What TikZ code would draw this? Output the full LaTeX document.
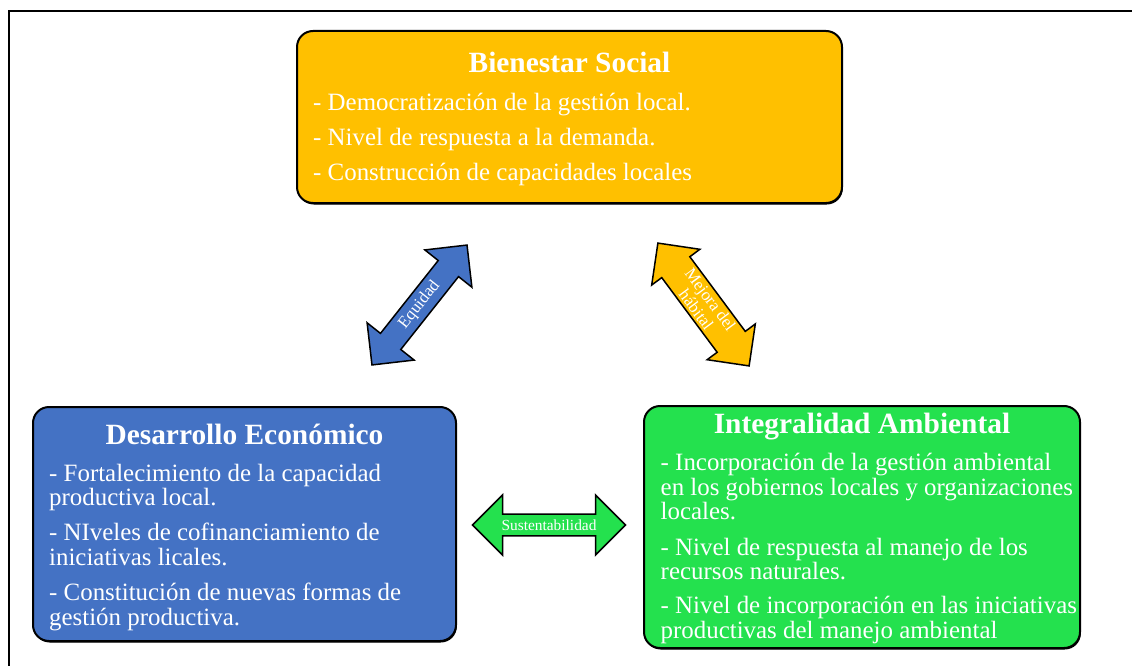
\documentclass[tikz,border=0pt]{standalone}
\usepackage{fontspec}
\setmainfont{Liberation Serif}
\usetikzlibrary{shapes.arrows,shadows}
\definecolor{cOrange}{HTML}{FFC000}
\definecolor{cBlue}{HTML}{4472C4}
\definecolor{cGreen}{HTML}{24E14E}
\begin{document}
\begin{tikzpicture}[x=1pt,y=-1pt,
  box/.style={draw=black, line width=2pt, rounded corners=16pt, inner sep=0pt,
    drop shadow={shadow xshift=0.8pt, shadow yshift=-1.5pt, opacity=1, fill=black}},
  ttl/.style={text=white, font=\fontsize{29.4}{32}\selectfont\bfseries, anchor=base, inner sep=0pt},
  txt/.style={text=white, font=\fontsize{24.9}{24.5}\selectfont, anchor=base west, inner sep=0pt},
  darrow/.style={double arrow, draw=black, line width=1.5pt, minimum height=153pt,
    minimum width=60pt, double arrow head extend=11pt, inner sep=0pt, text=white,
    font=\fontsize{15.4}{16}\selectfont, align=center},
  bigarrowtext/.style={font=\fontsize{16.8}{17.5}\selectfont},
]
\useasboundingbox (0,0) rectangle (1132,666);
\draw[line width=1.5pt] (9,666) -- (9,11) -- (1132,11);

% Bienestar Social
\node[box, fill=cOrange, minimum width=545pt, minimum height=172pt] (bs) at (569.5,117) {};
\node[ttl] (bsT) at (569.5,73) {Bienestar Social};
\node[txt] (bs1) at (313,111) {- Democratización de la gestión local.};
\node[txt] (bs2) at (313,145.5) {- Nivel de respuesta a la demanda.};
\node[txt] (bs3) at (313,180) {- Construcción de capacidades locales};

% Desarrollo Economico
\node[box, fill=cBlue, minimum width=423pt, minimum height=234pt] (de) at (244.5,524) {};
\node[ttl] (deT) at (244.5,444) {Desarrollo Económico};
\node[txt] (de1) at (49,481) {- Fortalecimiento de la capacidad};
\node[txt] (de2) at (49,505.5) {productiva local.};
\node[txt] (de3) at (49,540.5) {- NIveles de cofinanciamiento de};
\node[txt] (de4) at (49,565) {iniciativas licales.};
\node[txt] (de5) at (49,600.5) {- Constitución de nuevas formas de};
\node[txt] (de6) at (49,625) {gestión productiva.};

% Integralidad Ambiental
\node[box, fill=cGreen, minimum width=436pt, minimum height=242pt] (ia) at (862,527) {};
\node[ttl] (iaT) at (862,433.5) {Integralidad Ambiental};
\node[txt] (ia1) at (660.5,470.5) {- Incorporación de la gestión ambiental};
\node[txt] (ia2) at (660.5,495) {en los gobiernos locales y organizaciones};
\node[txt] (ia3) at (660.5,519.5) {locales.};
\node[txt] (ia4) at (660.5,555) {- Nivel de respuesta al manejo de los};
\node[txt] (ia5) at (660.5,579.5) {recursos naturales.};
\node[txt] (ia6) at (660.5,613.5) {- Nivel de incorporación en las iniciativas};
\node[txt] (ia7) at (660.5,638) {productivas del manejo ambiental};

% Arrows
\node[darrow, bigarrowtext, fill=cBlue, rotate=51.6] (eq) at (419.5,305) {Equidad};
\node[darrow, bigarrowtext, fill=cOrange, rotate=-53.4] (mh) at (703.5,304.5) {Mejora del\\hábital};
\node[darrow, fill=cGreen] (su) at (549,525) {Sustentabilidad};
\end{tikzpicture}
\end{document}
